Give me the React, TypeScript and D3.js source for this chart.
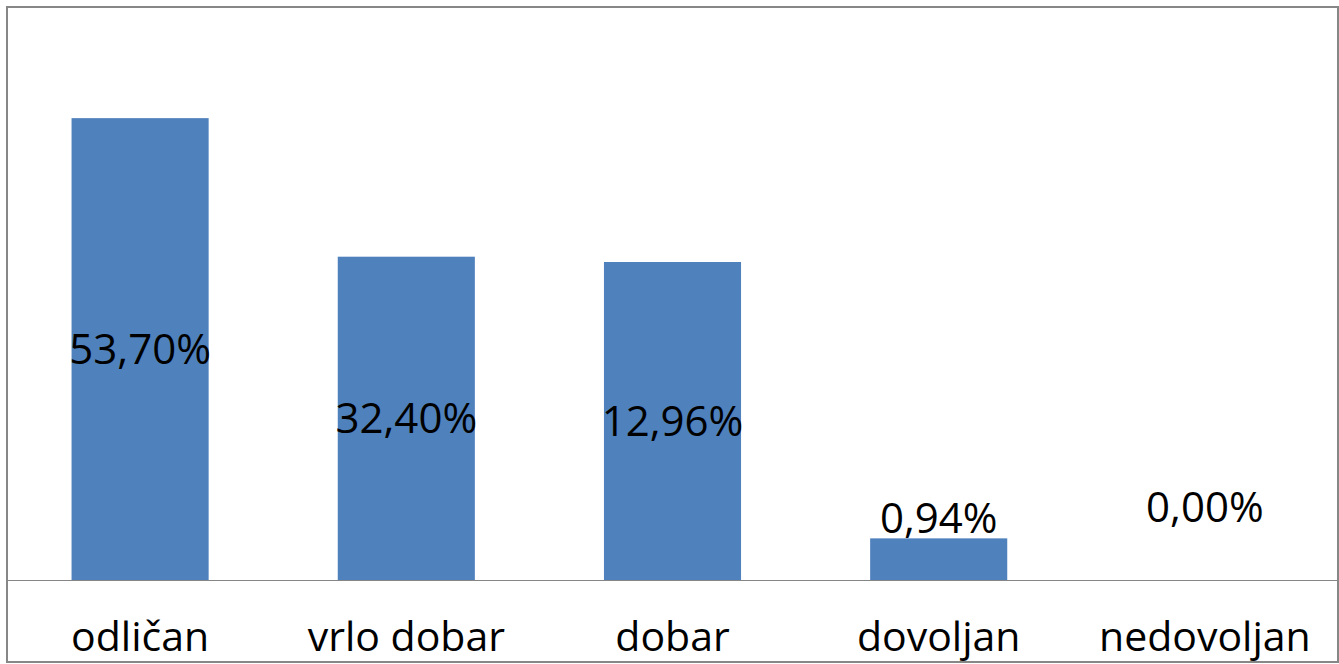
import React from 'react';
import * as d3 from 'd3';

const categories = ['odličan', 'vrlo dobar', 'dobar', 'dovoljan', 'nedovoljan'];
// bar heights as drawn (label percentages are shown separately, as in the source)
const barValues = [61.0, 42.7, 42.0, 5.5, 0];
const labels = ['53,70%', '32,40%', '12,96%', '0,94%', '0,00%'];

const width = 1339;
const height = 664;
const left = 7;
const right = 1338;
const top = 7;
const bottom = 662;
const baseY = 580;
const font = '"Open Sans", "DejaVu Sans", sans-serif';

const App = () => {
  const x = d3.scaleBand<string>()
    .domain(categories)
    .range([left, right])
    .paddingInner(0.485)
    .paddingOuter(0.2425);

  const y = d3.scaleLinear()
    .domain([0, 70])
    .range([baseY, 50]);

  const labelY = (v: number) => {
    const h = y(0) - y(v);
    if (v === 0) return y(0) - 58;
    if (h < 80) return y(v) - 5;
    return (y(v) + y(0)) / 2 + 15;
  };

  return (
    <svg
      width={width}
      height={height}
      style={{ position: 'absolute', left: 0, top: 0, display: 'block', background: '#fff' }}
    >
      {categories.map((c, i) => (
        <rect
          key={c}
          x={x(c)}
          y={y(barValues[i])}
          width={x.bandwidth()}
          height={y(0) - y(barValues[i])}
          fill="#4F81BD"
        />
      ))}
      <line x1={left} x2={right} y1={baseY + 0.5} y2={baseY + 0.5} stroke="#868686" strokeWidth={1} />
      {categories.map((c, i) => (
        <text
          key={'l' + c}
          x={(x(c) as number) + x.bandwidth() / 2}
          y={labelY(barValues[i])}
          textAnchor="middle"
          fontFamily={font}
          fontSize={42}
          fill="#000"
        >
          {labels[i]}
        </text>
      ))}
      {categories.map(c => (
        <text
          key={'c' + c}
          x={(x(c) as number) + x.bandwidth() / 2}
          y={651}
          textAnchor="middle"
          fontFamily={font}
          fontSize={41}
          fill="#000"
        >
          {c}
        </text>
      ))}
      <rect
        x={left}
        y={top}
        width={right - left}
        height={bottom - top}
        fill="none"
        stroke="#878787"
        strokeWidth={2}
      />
    </svg>
  );
};

export default App;
